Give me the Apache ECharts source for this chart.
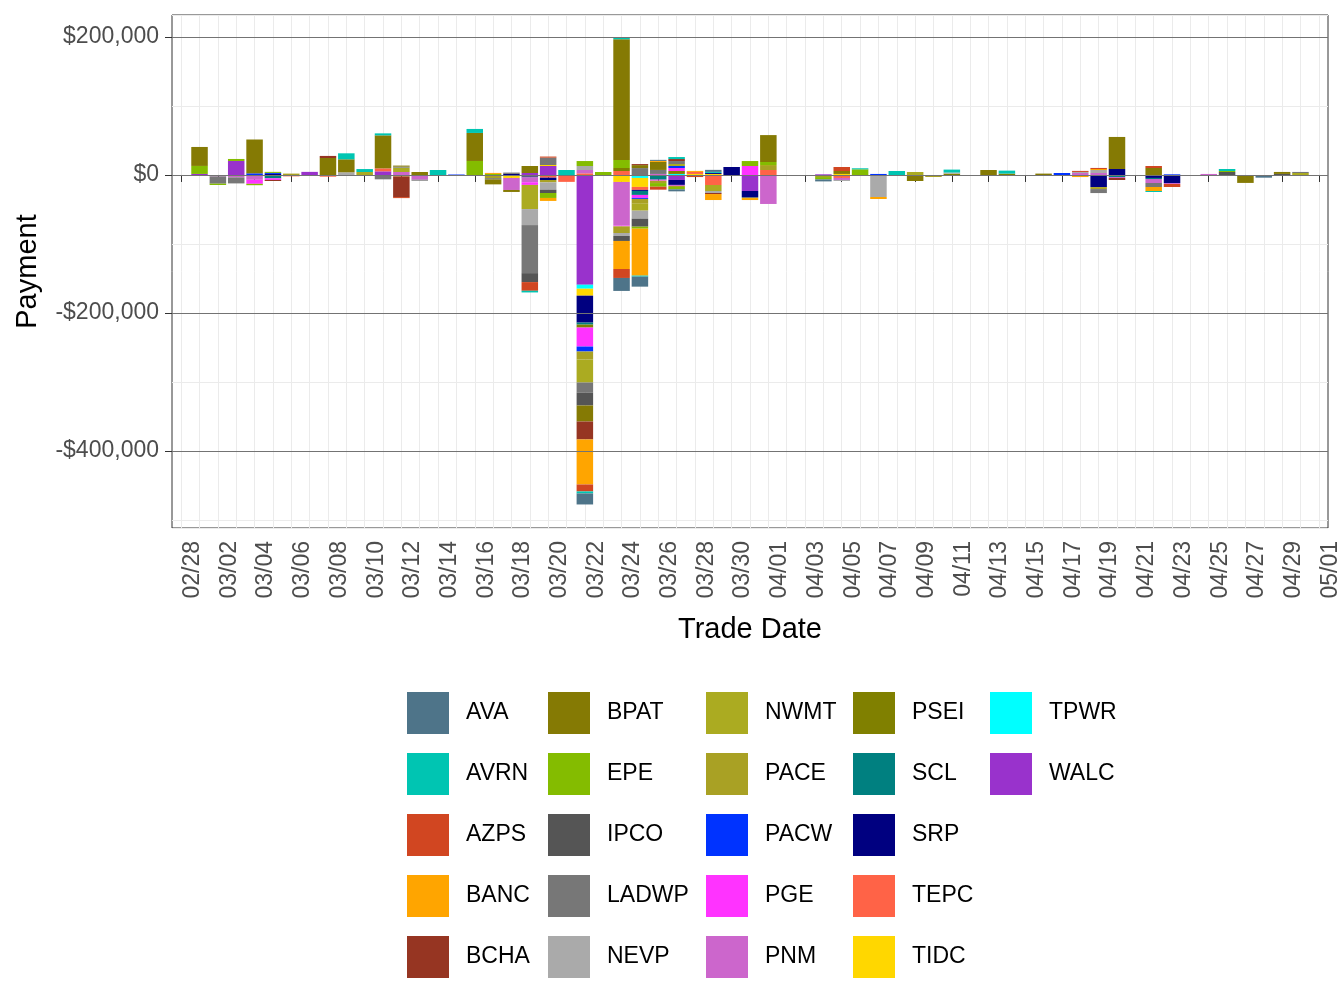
<!DOCTYPE html>
<html>
<head>
<meta charset="utf-8">
<script src="https://cdn.jsdelivr.net/npm/echarts@6/dist/echarts.min.js"></script>
<style>
html, body { margin: 0; padding: 0; background: #fff; }
#chart { width: 1344px; height: 1008px; }
</style>
</head>
<body>
<div id="chart"></div>
<script>
// trade dates, 02/28 .. 05/01
var dates = ['02/28',
  '03/01','03/02','03/03','03/04','03/05','03/06','03/07','03/08','03/09','03/10',
  '03/11','03/12','03/13','03/14','03/15','03/16','03/17','03/18','03/19','03/20',
  '03/21','03/22','03/23','03/24','03/25','03/26','03/27','03/28','03/29','03/30','03/31',
  '04/01','04/02','04/03','04/04','04/05','04/06','04/07','04/08','04/09','04/10',
  '04/11','04/12','04/13','04/14','04/15','04/16','04/17','04/18','04/19','04/20',
  '04/21','04/22','04/23','04/24','04/25','04/26','04/27','04/28','04/29','04/30',
  '05/01'];

var yTicks = [-400000, -200000, 0, 200000];
var yMinor = [-500000, -300000, -100000, 100000];

// payment per BAA per day ($), one week per group
var AVA   = [0,0,0,0,0,0,0, 0,0,0,0,0,0,0, 0,0,0,0,0,0,0, 0,-16000,0,-18800,-14500,1500,-2900, 0,2900,0,0,0,0,0, -2900,0,0,0,0,0,0, 0,0,0,0,0,0,0, 0,0,0,0,0,0,0, 0,0,0,-2900,0,0,0];
var AVRN  = [0,0,0,0,0,0,0, 0,0,8700,4300,2900,0,0, 7200,0,5800,0,0,-2400,0, 7200,-2900,0,2000,-1500,0,2900, 0,1500,0,0,0,0,0, 0,0,1500,0,5800,0,0, 4300,0,0,4300,0,0,0, 0,0,0,0,-1500,0,0, 0,2900,0,0,0,0,0];
var AZPS  = [0,0,0,0,0,0,0, 0,0,0,0,0,-1500,0, 0,0,0,0,0,-12600,1600, 0,-10100,0,-13000,0,-4300,0, -1500,0,0,0,0,0,0, 0,5800,0,0,0,0,0, 0,0,0,0,0,0,0, 1500,1500,0,0,2900,-4300,0, 0,0,0,0,0,0,0];
var BANC  = [0,0,0,0,0,0,0, 0,0,0,0,0,0,0, 0,0,0,1500,0,0,-4300, 0,-65200,0,-40600,-68000,1500,0, 1500,-8700,0,-2900,0,0,0, 0,0,0,-2900,0,0,0, 0,0,0,0,0,0,0, -1500,1500,0,0,-5800,0,0, 0,0,0,0,0,0,0];
var BCHA  = [0,0,0,0,0,-1500,0, 0,3000,0,0,0,-30000,0, 0,0,0,0,0,0,0, 0,-26000,0,0,1500,0,2900, 0,-1500,0,0,0,0,0, 0,0,0,0,0,0,0, 0,0,0,0,0,0,0, 0,0,-2900,0,0,0,0, 0,0,0,0,0,0,0];
var BPAT  = [0,27500,0,0,49000,0,0, 0,24600,18800,0,47800,1500,4300, 0,0,40600,-7200,-2900,10100,0, 0,-23200,0,175000,4300,11600,0, 0,0,0,0,39000,0,0, 0,4300,0,0,0,-7200,0, 0,0,7200,0,0,2000,0, 0,0,46400,0,10100,0,0, 0,0,-10000,0,2900,0,0];
var EPE   = [0,11600,-1900,2900,-2000,1500,0, 0,0,0,0,0,0,0, 0,0,20300,1500,0,0,-7200, 0,7200,4300,11600,-2900,-5300,-3400, 0,0,0,7200,4300,0,0, -3400,0,8200,0,0,0,0, 0,-1000,0,0,-800,0,-1500, 0,0,0,0,0,0,-800, 0,1500,0,-1000,0,0,0];
var IPCO  = [0,0,0,0,0,0,0, 0,0,0,0,0,0,0, 0,0,0,-1500,0,-13000,-4800, 0,-18800,0,-7200,-11600,0,0, 0,0,0,0,0,0,0, 0,0,0,0,0,0,0, 0,0,0,0,0,0,0, 0,0,0,0,0,0,0, 0,4300,0,0,1500,0,0];
var LADWP = [0,0,-10600,-8700,0,0,0, 0,0,0,0,-6300,1500,-1500, 0,0,0,0,2000,-69600,10600, 0,-14500,0,0,10000,5800,4300, 0,0,0,-1500,0,0,0, 0,0,0,0,0,0,0, 0,0,0,0,0,0,0, 0,-5800,0,0,-5800,0,0, 0,0,-1500,0,0,1500,0];
var NEVP  = [0,0,0,0,0,0,0, 0,0,3900,0,0,0,0, 0,0,0,0,0,-23200,-10600, 0,5800,0,-4300,-11600,0,0, 0,-2900,0,0,0,0,0, 0,-1500,0,-31900,0,0,0, 1500,0,0,0,0,0,0, 1500,4300,0,0,0,0,0, 0,0,0,0,0,0,0];
var NWMT  = [0,0,0,0,0,0,0, 0,0,0,4300,0,6300,0, 0,0,0,0,0,-35000,0, 0,-33300,0,0,-10000,0,2900, 0,-8700,0,0,1500,0,0, 0,0,0,0,0,4300,0, 0,0,0,0,0,0,0, 0,0,0,0,0,0,0, 0,0,0,0,0,2900,0];
var PACE  = [0,0,0,0,0,0,2000, 0,0,0,0,0,0,0, 0,0,0,-3400,0,0,-3400, 0,-11600,0,-9700,-7000,-3400,-1500, -1500,0,0,0,5800,0,0, -1500,0,0,0,0,0,-2900, 0,0,0,0,0,0,0, 0,-2900,0,0,0,0,0, 0,0,0,0,0,0,0];
var PACW  = [0,0,0,0,2400,1500,0, 0,0,0,0,0,0,0, 0,700,0,0,0,0,0, 0,-7200,0,0,-1500,0,2900, 0,0,0,0,0,0,0, 0,0,0,1500,0,0,0, 0,0,0,0,0,0,2900, 0,0,0,0,0,1000,0, 0,0,0,0,0,0,0];
var PGE   = [0,0,0,0,-5800,-2400,0, 0,0,0,0,0,0,0, 0,0,0,0,0,-3900,0, 0,-27500,0,-1000,-4300,-1500,4300, 0,0,0,13000,0,0,0, 0,0,0,0,0,0,0, 0,0,0,0,0,0,0, 0,0,0,0,0,0,0, 0,0,0,0,0,0,0];
var PNM   = [0,0,-2000,-2500,-7000,0,0, 0,0,0,0,0,4300,-6800, 0,0,-1500,0,-17400,-7000,0, 0,4800,0,-63300,0,1500,-1500, 0,0,0,0,-42000,0,0, -1500,-2900,0,0,-1000,0,0, 0,0,-1000,0,0,0,0, 2900,2900,-1500,0,-5800,-1500,0, 1500,0,0,0,0,0,0];
var PSEI  = [0,0,0,0,0,0,0, 0,0,0,0,0,0,0, 0,0,0,0,0,0,0, 0,-4300,0,4300,0,0,4300, 0,0,0,0,0,0,0, 0,0,0,0,0,0,0, 2000,0,0,2000,0,0,0, 0,0,0,0,0,0,0, 0,0,0,0,0,0,0];
var SCL   = [0,0,0,0,0,-4800,0, 0,0,0,0,0,0,0, 0,0,0,0,0,0,0, 0,-2900,0,0,-5800,-5300,0, 0,0,0,0,0,0,0, 0,0,0,0,0,0,0, 0,0,0,0,0,0,0, 0,0,-2900,0,-1500,0,0, 0,0,0,0,0,0,0];
var SRP   = [0,0,0,0,0,1500,0, 0,0,0,0,0,0,0, 0,0,0,-1500,1500,-1500,-3400, 0,-39000,0,0,-1500,0,-7200, 0,1500,11600,-8700,0,0,0, 0,0,0,0,0,0,0, 0,0,0,0,0,0,0, -1500,-16000,8700,0,-4300,-11600,0, 0,0,0,0,0,0,0];
var TEPC  = [0,0,0,-1000,0,0,-2000, 0,-2500,0,0,4300,0,0, 0,0,0,0,0,0,-3900, -10000,2400,-800,5800,-4300,-1500,0, 2900,-14500,-1400,0,7200,0,0, 0,-4300,0,0,0,-1500,0, 0,0,0,0,0,0,0, 0,0,0,0,0,0,0, 0,0,0,0,0,0,0];
var TIDC  = [0,0,0,0,0,0,0, 0,0,0,0,0,-2000,0, 0,0,0,0,-4300,-2000,1500, 0,-10100,0,-10100,-13000,0,0, 1500,1500,0,0,0,0,0, 0,1500,0,0,0,0,0, 0,0,0,0,0,0,0, 0,-1500,0,0,0,0,0, 0,0,0,0,0,0,0];
var TPWR  = [0,0,0,0,0,0,0, 0,0,0,0,0,0,0, 0,0,0,0,0,0,0, 0,-5800,0,0,-4300,0,1500, 0,0,0,0,0,0,0, 0,0,0,0,0,0,0, 0,0,0,0,0,0,0, 0,0,0,0,0,0,0, 0,0,0,0,0,0,0];
var WALC  = [0,1500,0,20300,0,0,0, 4500,0,0,0,5300,0,0, 0,0,0,0,0,2900,13000, 0,-159000,0,0,0,0,-7200, 0,0,0,-23200,0,-700,0, 1000,0,0,0,0,0,0, 0,0,0,0,0,0,0, 0,0,0,0,0,0,0, 0,0,0,0,0,0,0];

var names = ['AVA','AVRN','AZPS','BANC','BCHA','BPAT','EPE','IPCO','LADWP','NEVP','NWMT',
  'PACE','PACW','PGE','PNM','PSEI','SCL','SRP','TEPC','TIDC','TPWR','WALC'];
var payments = {AVA: AVA, AVRN: AVRN, AZPS: AZPS, BANC: BANC, BCHA: BCHA, BPAT: BPAT, EPE: EPE,
  IPCO: IPCO, LADWP: LADWP, NEVP: NEVP, NWMT: NWMT, PACE: PACE, PACW: PACW, PGE: PGE, PNM: PNM,
  PSEI: PSEI, SCL: SCL, SRP: SRP, TEPC: TEPC, TIDC: TIDC, TPWR: TPWR, WALC: WALC};
var colors = {AVA: '#4E7489', AVRN: '#00C5B2', AZPS: '#D14621', BANC: '#FFA500', BCHA: '#963522',
  BPAT: '#857A04', EPE: '#84BC00', IPCO: '#555555', LADWP: '#777777', NEVP: '#AAAAAA',
  NWMT: '#ABAB21', PACE: '#A9A124', PACW: '#0033FF', PGE: '#FF33FF', PNM: '#CC66CC',
  PSEI: '#808000', SCL: '#008080', SRP: '#000080', TEPC: '#FF6347', TIDC: '#FFD700',
  TPWR: '#00FFFF', WALC: '#9932CC'};

var font = 'Liberation Sans, Arial, sans-serif';

function money(v) {
  return (v < 0 ? '-' : '') + '$' + Math.abs(v).toLocaleString('en-US');
}

// ggplot stacks the first level farthest from zero, so add series last-to-first
var series = names.slice().reverse().map(function (name) {
  return {
    name: name,
    type: 'bar',
    stack: 'total',
    data: payments[name],
    barCategoryGap: '10%',
    itemStyle: { color: colors[name] },
    emphasis: { disabled: true }
  };
});
// light minor lines under the bars
series[0].markLine = {
  silent: true,
  z: 1,
  symbol: ['none', 'none'],
  label: { show: false },
  lineStyle: { color: '#ebebeb', type: 'solid', width: 1 },
  data: yMinor.map(function (v) { return { yAxis: v }; })
};
// dark reference lines drawn over the bars
series[series.length - 1].markLine = {
  silent: true,
  z: 10,
  symbol: ['none', 'none'],
  label: { show: false },
  lineStyle: { color: '#737373', type: 'solid', width: 1 },
  data: yTicks.map(function (v) { return { yAxis: v }; })
};

var legendCols = [
  ['AVA', 'AVRN', 'AZPS', 'BANC', 'BCHA'],
  ['BPAT', 'EPE', 'IPCO', 'LADWP', 'NEVP'],
  ['NWMT', 'PACE', 'PACW', 'PGE', 'PNM'],
  ['PSEI', 'SCL', 'SRP', 'TEPC', 'TIDC'],
  ['TPWR', 'WALC']
];
var legendLeft = [407, 548, 706, 853, 990];
var legends = legendCols.map(function (col, i) {
  return {
    data: col,
    orient: 'vertical',
    left: legendLeft[i],
    top: 692,
    padding: 0,
    itemWidth: 42,
    itemHeight: 42,
    itemGap: 19,
    icon: 'rect',
    selectedMode: false,
    textStyle: { fontSize: 23, color: '#000', fontFamily: font, padding: [4, 0, 0, 12] }
  };
});

var chart = echarts.init(document.getElementById('chart'));
chart.setOption({
  animation: false,
  backgroundColor: '#fff',
  textStyle: { fontFamily: font },
  legend: legends,
  grid: {
    left: 172, right: 16, top: 15, bottom: 480,
    show: true, borderColor: '#333333', borderWidth: 1, backgroundColor: 'transparent'
  },
  xAxis: {
    type: 'category',
    data: dates,
    name: 'Trade Date',
    nameLocation: 'middle',
    nameGap: 87,
    nameTextStyle: { fontSize: 29, color: '#000', fontFamily: font },
    axisLine: { show: false },
    axisTick: { show: true, interval: 1, alignWithLabel: true, length: 7, lineStyle: { color: '#333' } },
    axisLabel: {
      interval: 1, rotate: 90, verticalAlign: 'top', margin: 13,
      fontSize: 23, color: '#4d4d4d', fontFamily: font
    },
    splitLine: { show: true, interval: 0, alignWithLabel: true, lineStyle: { color: '#ebebeb', width: 1 } }
  },
  yAxis: {
    type: 'value',
    min: -511500,
    max: 231800,
    splitNumber: 3,
    name: 'Payment',
    nameLocation: 'middle',
    nameGap: 130,
    nameRotate: 90,
    nameTextStyle: { fontSize: 29, color: '#000', fontFamily: font },
    axisLine: { show: false },
    axisTick: { show: true, length: 7, lineStyle: { color: '#333' } },
    axisLabel: {
      showMinLabel: false, showMaxLabel: false, margin: 13,
      fontSize: 23, color: '#4d4d4d', fontFamily: font,
      formatter: function (v) { return yTicks.indexOf(v) >= 0 ? money(v) : ''; }
    },
    splitLine: { show: true, lineStyle: { color: '#ebebeb', width: 1 } }
  },
  series: series
});
</script>
</body>
</html>
